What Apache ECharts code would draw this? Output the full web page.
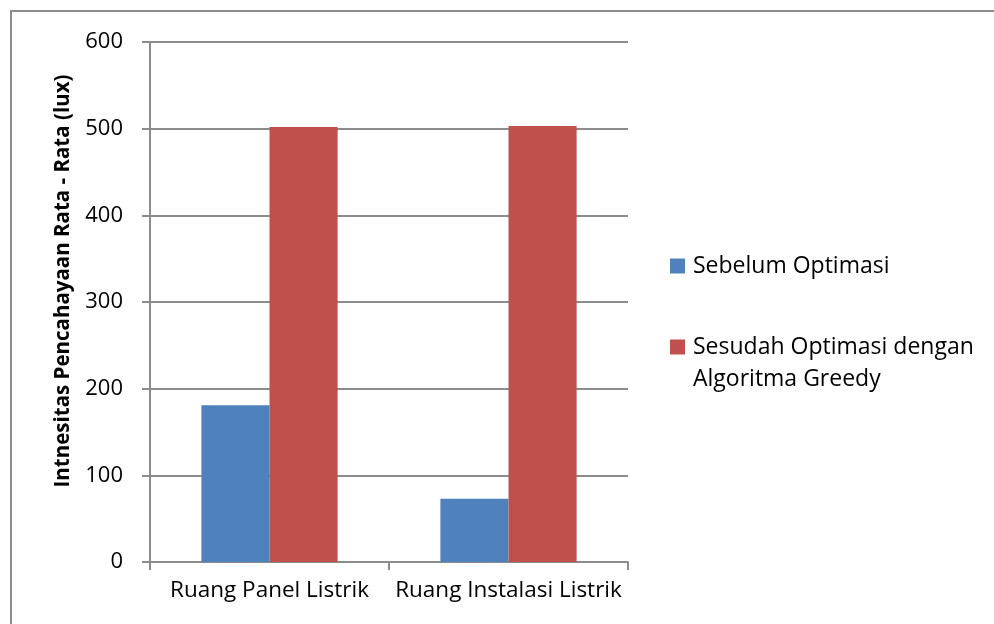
<!DOCTYPE html>
<html>
<head>
<meta charset="utf-8">
<script src="https://cdn.jsdelivr.net/npm/echarts@6/dist/echarts.min.js"></script>
<style>
  html, body { margin: 0; padding: 0; background: #fff; }
  #chart { width: 994px; height: 624px; }
</style>
</head>
<body>
<div id="chart"></div>
<script>
// Rooms measured
const categories = ['Ruang Panel Listrik', 'Ruang Instalasi Listrik'];
// Average illuminance (lux) before and after optimisation
const sebelum = [181, 73];
const sesudah = [502, 503];
const seriesNames = ['Sebelum Optimasi', 'Sesudah Optimasi dengan\nAlgoritma Greedy'];
const yTicks = { min: 0, max: 600, interval: 100 };
const yTitle = 'Intnesitas Pencahayaan Rata - Rata (lux)';

const FONT = '"Open Sans", "Noto Sans", sans-serif';
const GRID_GRAY = '#8c8c8c';

const chart = echarts.init(document.getElementById('chart'), null, { renderer: 'canvas' });

chart.setOption({
  backgroundColor: '#ffffff',
  animation: false,
  textStyle: { fontFamily: FONT, color: '#000' },
  grid: { left: 150, right: 366, top: 42, bottom: 62 },
  legend: {
    orient: 'vertical',
    left: 670,
    top: 250,
    padding: 0,
    itemWidth: 15,
    itemHeight: 15,
    itemGap: 17,
    icon: 'rect',
    selectedMode: false,
    data: seriesNames,
    formatter: function (name) {
      // keep the swatch level with the first line of a wrapped label
      const lines = name.split('\n');
      if (lines.length === 2) return '\n' + lines[0] + '\n' + lines[1];
      return name;
    },
    textStyle: { fontFamily: FONT, fontSize: 23, color: '#000', lineHeight: 32, padding: [0, 0, 0, 3] }
  },
  xAxis: {
    type: 'category',
    data: categories,
    axisLine: { show: true, lineStyle: { color: GRID_GRAY, width: 2 } },
    axisTick: { show: true, length: 8, lineStyle: { color: GRID_GRAY, width: 2 } },
    axisLabel: { fontFamily: FONT, fontSize: 22.5, color: '#000', margin: 17, interval: 0 }
  },
  yAxis: {
    type: 'value',
    min: yTicks.min,
    max: yTicks.max,
    interval: yTicks.interval,
    name: yTitle,
    nameLocation: 'middle',
    nameGap: 76,
    nameTextStyle: { fontFamily: FONT, fontSize: 20.5, fontWeight: 'bold', color: '#000', padding: [0, 0, 0, 42] },
    axisLine: { show: true, lineStyle: { color: GRID_GRAY, width: 2 } },
    axisTick: { show: true, inside: false, length: 8, lineStyle: { color: GRID_GRAY, width: 2 } },
    axisLabel: { fontFamily: FONT, fontSize: 22, color: '#000', margin: 27 },
    splitLine: { show: true, lineStyle: { color: GRID_GRAY, width: 2 } }
  },
  series: [
    {
      name: seriesNames[0],
      type: 'bar',
      data: sebelum,
      barGap: '0%',
      barCategoryGap: '43%',
      itemStyle: { color: '#4F81BD' }
    },
    {
      name: seriesNames[1],
      type: 'bar',
      data: sesudah,
      barGap: '0%',
      barCategoryGap: '43%',
      itemStyle: { color: '#C0504D' }
    }
  ],
  graphic: [
    { type: 'line', shape: { x1: 10, y1: 11, x2: 994, y2: 11 }, style: { stroke: '#8c8c8c', lineWidth: 2 } },
    { type: 'line', shape: { x1: 11, y1: 10, x2: 11, y2: 624 }, style: { stroke: '#8c8c8c', lineWidth: 2 } }
  ]
});
</script>
</body>
</html>
